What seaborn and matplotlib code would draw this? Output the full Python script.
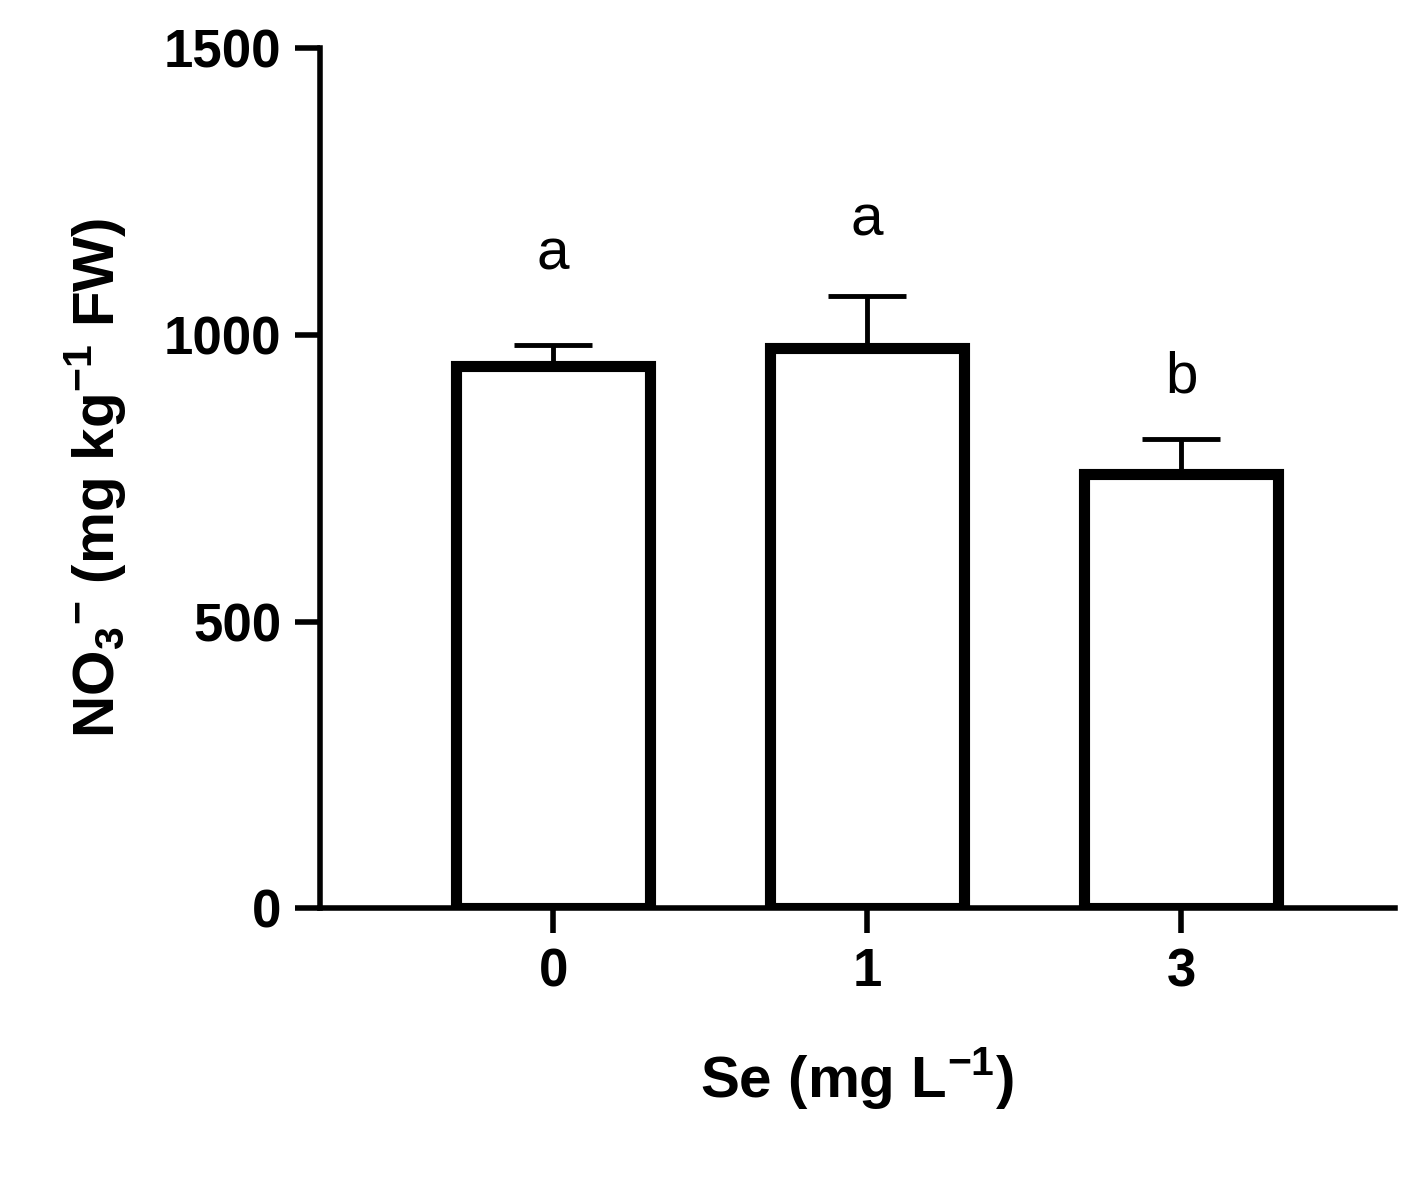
import matplotlib
matplotlib.use("Agg")
import matplotlib.pyplot as plt
import seaborn as sns
import pandas as pd

categories = ["0", "1", "3"]
means = [945, 977, 757]
sem = [37, 90, 61]
letters = ["a", "a", "b"]
letter_y = [1140, 1200, 925]

sns.set_style("ticks")
plt.rcParams['font.family'] = ['Liberation Sans', 'DejaVu Sans']
plt.rcParams['text.color'] = 'black'
plt.rcParams['axes.labelcolor'] = 'black'
plt.rcParams['xtick.color'] = 'black'
plt.rcParams['ytick.color'] = 'black'
plt.rcParams['axes.edgecolor'] = 'black'
plt.rcParams['mathtext.fontset'] = 'custom'
plt.rcParams['mathtext.rm'] = 'Liberation Sans'
plt.rcParams['mathtext.bf'] = 'Liberation Sans:bold'

df = pd.DataFrame({"Se": categories, "NO3": means})
fig = plt.figure(figsize=(14.23, 12), dpi=100)
ax = fig.add_axes([0.225, 0.243, 0.755, 0.717])
sns.barplot(data=df, x="Se", y="NO3", ax=ax, color="white", edgecolor="black",
            linewidth=8, width=0.62, errorbar=None, zorder=3)
ax.errorbar(range(len(categories)), means, yerr=[[0]*3, sem], fmt="none",
            ecolor="black", elinewidth=3.5, capsize=28, capthick=3.5, zorder=2)
for i, (t, y) in enumerate(zip(letters, letter_y)):
    ax.text(i, y, t, ha="center", va="center", fontsize=42, color="black")

ax.set_xlim(-0.742, 2.68)
ax.set_ylim(0, 1500)
ax.set_yticks([0, 500, 1000, 1500])
sns.despine(ax=ax)
for s in ["left", "bottom"]:
    ax.spines[s].set_linewidth(4)
ax.tick_params(width=4, length=18, labelsize=38, pad=10)
for lab in ax.get_xticklabels() + ax.get_yticklabels():
    lab.set_fontweight("bold")
ax.set_xlabel("Se (mg L$^{\\mathbf{-1}}$)", fontsize=42, fontweight="bold", labelpad=35)
ax.set_ylabel("NO$_\\mathbf{3}$$^{\\mathbf{-}}$ (mg kg$^{\\mathbf{-1}}$ FW)", fontsize=42,
              fontweight="bold", labelpad=25)
fig.savefig("out.png", dpi=100)
